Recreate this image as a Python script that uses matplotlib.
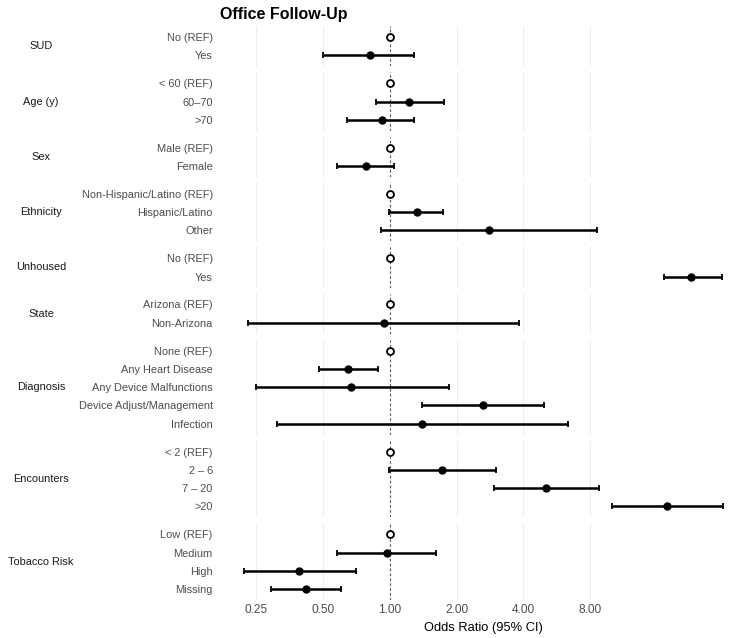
import numpy as np
import matplotlib.pyplot as plt
from matplotlib import transforms

plt.rcParams['font.family'] = ['Liberation Sans', 'DejaVu Sans']

groups = ["SUD", "Age (y)", "Sex", "Ethnicity", "Unhoused", "State",
          "Diagnosis", "Encounters", "Tobacco Risk"]

levels = [
    ["No (REF)", "Yes"],
    ["< 60 (REF)", "60\u201370", ">70"],
    ["Male (REF)", "Female"],
    ["Non-Hispanic/Latino (REF)", "Hispanic/Latino", "Other"],
    ["No (REF)", "Yes"],
    ["Arizona (REF)", "Non-Arizona"],
    ["None (REF)", "Any Heart Disease", "Any Device Malfunctions",
     "Device Adjust/Management", "Infection"],
    ["< 2 (REF)", "2 \u2013 6", "7 \u2013 20", ">20"],
    ["Low (REF)", "Medium", "High", "Missing"],
]

# odds ratios and 95% CI, NaN CI for reference levels
odds = [
    [1.0, 0.81],
    [1.0, 1.22, 0.92],
    [1.0, 0.78],
    [1.0, 1.32, 2.80],
    [1.0, 22.9],
    [1.0, 0.94],
    [1.0, 0.65, 0.67, 2.62, 1.39],
    [1.0, 1.71, 5.05, 17.7],
    [1.0, 0.97, 0.39, 0.42],
]
lower = [
    [np.nan, 0.50],
    [np.nan, 0.865, 0.64],
    [np.nan, 0.58],
    [np.nan, 0.99, 0.91],
    [np.nan, 17.2],
    [np.nan, 0.23],
    [np.nan, 0.48, 0.25, 1.39, 0.31],
    [np.nan, 0.99, 2.94, 10.0],
    [np.nan, 0.58, 0.22, 0.29],
]
upper = [
    [np.nan, 1.28],
    [np.nan, 1.75, 1.28],
    [np.nan, 1.04],
    [np.nan, 1.73, 8.57],
    [np.nan, 31.3],
    [np.nan, 3.82],
    [np.nan, 0.88, 1.84, 4.95, 6.33],
    [np.nan, 3.0, 8.75, 31.7],
    [np.nan, 1.61, 0.70, 0.60],
]

ticks = [0.25, 0.5, 1, 2, 4, 8]
tick_labels = ["0.25", "0.50", "1.00", "2.00", "4.00", "8.00"]

fig = plt.figure(figsize=(7.5, 6.38), dpi=100)
ratios = [len(l) + 0.2 for l in levels]
gs = fig.add_gridspec(len(groups), 1, height_ratios=ratios, hspace=0.103,
                      left=0.293, right=0.996, top=0.959, bottom=0.0596)

xmin, xmax = 2 ** -2.55, 2 ** 5.35
for i, g in enumerate(groups):
    ax = fig.add_subplot(gs[i])
    n = len(levels[i])
    y = np.arange(n)
    o = np.array(odds[i])
    lo = np.array(lower[i])
    hi = np.array(upper[i])
    ax.set_xscale("log", base=2)
    ax.set_xlim(xmin, xmax)
    ax.set_ylim(n - 1 + 0.6, -0.6)
    for t in ticks:
        ax.axvline(t, color="#EDEDED", lw=0.8, zorder=0)
    ax.axvline(1, color="#555555", lw=0.8, ls=(0, (2.2, 2.2)), zorder=1)
    ref = np.isnan(lo)
    ax.errorbar(o[~ref], y[~ref],
                xerr=[o[~ref] - lo[~ref], hi[~ref] - o[~ref]],
                fmt="o", color="black", ms=5, elinewidth=1.8,
                capsize=2.2, capthick=1.3, zorder=3)
    ax.plot(o[ref], y[ref], "o", mfc="white", mec="black", mew=1.3,
            ms=5, zorder=4)
    ax.set_yticks(y)
    ax.set_yticklabels(levels[i], fontsize=7.9, color="#4D4D4D")
    ax.tick_params(axis="y", length=0, pad=5)
    ax.set_xticks(ticks)
    ax.minorticks_off()
    for s in ax.spines.values():
        s.set_visible(False)
    tr = transforms.blended_transform_factory(fig.transFigure, ax.transAxes)
    ax.text(41 / 750, 0.5, g, transform=tr, ha="center", va="center",
            fontsize=7.9, color="#1A1A1A")
    if i < len(groups) - 1:
        ax.tick_params(axis="x", length=0, labelbottom=False)
    else:
        ax.set_xticklabels(tick_labels, fontsize=8.6, color="#4D4D4D")
        ax.tick_params(axis="x", length=0, pad=3)
        ax.set_xlabel("Odds Ratio (95% CI)", fontsize=9.3, color="black",
                      labelpad=4)
    if i == 0:
        ax.set_title("Office Follow-Up", loc="left", fontsize=11.5,
                     fontweight="bold", pad=5, x=0.0)

fig.savefig("out.png", dpi=100)
